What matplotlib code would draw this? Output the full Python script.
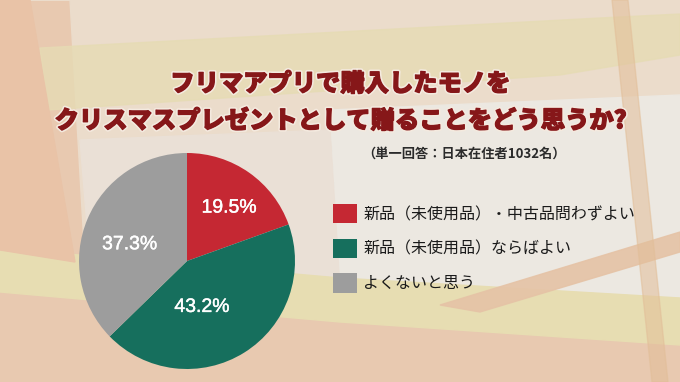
import matplotlib
matplotlib.use('Agg')
from matplotlib import pyplot as plt
from matplotlib.patches import Polygon, Rectangle
import matplotlib.patheffects as pe

plt.rcParams['font.family'] = ['Noto Sans CJK JP', 'DejaVu Sans']

# data
labels = ['新品（未使用品）・中古品問わずよい', '新品（未使用品）ならばよい', 'よくないと思う']
shares = [19.5, 43.2, 37.3]
colors = ['#C52833', '#166F5D', '#9D9D9D']
title_lines = ['フリマアプリで購入したモノを', 'クリスマスプレゼントとして贈ることをどう思うか?']
subtitle = '（単一回答：日本在住者1032名）'

# label spots inside the pie (radius units)
label_pos = [(0.39, 0.49), (0.14, -0.43), (-0.53, 0.15)]

W, H = 680, 382
fig = plt.figure(figsize=(W / 100, H / 100), dpi=100)

# background decoration, pixel coordinates
bg = fig.add_axes([0, 0, 1, 1])
bg.set_xlim(0, W)
bg.set_ylim(H, 0)
bg.axis('off')
bg.add_patch(Rectangle((0, 0), W, H, color='#E8C9B0'))
bg.add_patch(Polygon([(30, 0), (680, 0), (680, 305), (340, 292), (85, 262), (70, 0)],
                     color='#EBDCCB'))
bg.add_patch(Polygon([(40, 48), (600, 18), (680, 14), (680, 55), (560, 75), (48, 110)],
                     color='#E6DBB4', alpha=0.8))
bg.add_patch(Polygon([(330, 110), (680, 95), (680, 300), (340, 290)],
                     color='#ECE8E1'))
bg.add_patch(Polygon([(80, 140), (330, 130), (340, 290), (90, 262)],
                     color='#EAE0D6'))
bg.add_patch(Polygon([(0, 248), (340, 278), (680, 298), (680, 345), (340, 322), (0, 292)],
                     color='#E7DDB2'))
bg.add_patch(Polygon([(0, 0), (30, 0), (75, 262), (0, 250)], color='#E9C3A7'))
bg.add_patch(Polygon([(440, 305), (680, 232), (680, 252), (480, 312)],
                     color='#E5C3A6', alpha=0.9))
bg.add_patch(Polygon([(612, 0), (628, 0), (668, 382), (652, 382)],
                     color='#E2BE98', alpha=0.55))

# title: heavy red lettering with a pale rim
red = '#861719'
heavy = [pe.Stroke(linewidth=3.2, foreground='#F4EADF'),
         pe.Stroke(linewidth=0.9, foreground=red), pe.Normal()]
fig.text(340 / W, 1 - 84 / H, title_lines[0], ha='center', va='center',
         fontsize=17.5, fontweight='heavy', color=red, path_effects=heavy)
fig.text(340 / W, 1 - 121 / H, title_lines[1], ha='center', va='center',
         fontsize=17.5, fontweight='heavy', color=red, path_effects=heavy)
fig.text(566 / W, 1 - 154 / H, subtitle, ha='right', va='center',
         fontsize=9.5, fontweight='bold', color='#2B2B2B')

# pie
cx, cy, r = 187, 261, 108
ax = fig.add_axes([(cx - r) / W, 1 - (cy + r) / H, 2 * r / W, 2 * r / H])
wedges, _ = ax.pie(shares, colors=colors, startangle=90, counterclock=False,
                   wedgeprops=dict(linewidth=0))
ax.set_xlim(-1, 1)
ax.set_ylim(-1, 1)
for v, (x, y) in zip(shares, label_pos):
    ax.text(x, y, f'{v:.1f}%', ha='center', va='center', color='white',
            fontsize=14, family=['Liberation Sans', 'DejaVu Sans'],
            path_effects=[pe.Stroke(linewidth=0.3, foreground='white'), pe.Normal()])

# legend
fig.legend(wedges, labels, loc='upper left',
           bbox_to_anchor=(333 / W, 1 - 204 / H), frameon=False,
           fontsize=11.5, handlelength=1.5, handleheight=1.5,
           handletextpad=0.4, labelspacing=0.95, borderpad=0,
           borderaxespad=0, labelcolor='#1A1A1A')

fig.savefig('out.png', dpi=100)
